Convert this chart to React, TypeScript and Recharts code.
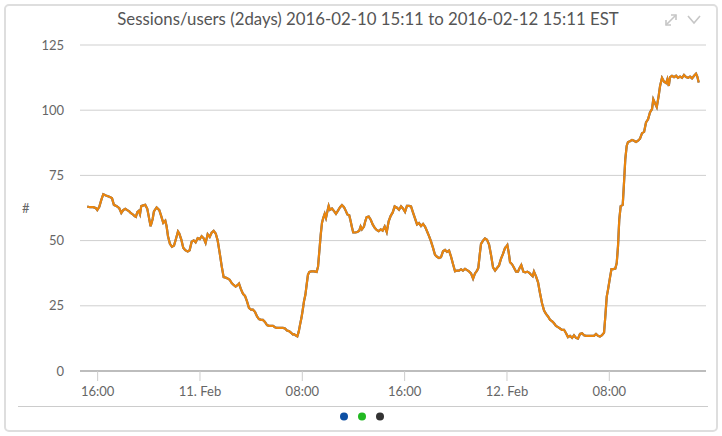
import { LineChart, Line, XAxis, YAxis, CartesianGrid } from 'recharts'

// hours since 2016-02-10 00:00 (EST)
const hours = [
  15.19, 15.4, 15.66, 15.87, 15.97, 16.13, 16.28, 16.44, 16.65, 16.91, 17.12, 17.27, 17.49, 17.69, 17.85, 18.0,
  18.16, 18.31, 18.47, 18.58, 18.74, 18.89, 18.99, 19.1, 19.21, 19.31, 19.41, 19.57, 19.72, 19.88, 19.99, 20.14,
  20.3, 20.4, 20.61, 20.82, 20.97, 21.13, 21.29, 21.39, 21.5, 21.65, 21.81, 21.97, 22.12, 22.28, 22.38, 22.54,
  22.69, 22.85, 23.04, 23.19, 23.35, 23.51, 23.66, 23.82, 23.98, 24.13, 24.29, 24.44, 24.6, 24.76, 24.91, 25.07,
  25.23, 25.38, 25.54, 25.7, 25.85, 26.01, 26.16, 26.32, 26.48, 26.63, 26.79, 26.95, 27.05, 27.2, 27.36, 27.52,
  27.67, 27.83, 27.99, 28.14, 28.3, 28.46, 28.61, 28.77, 28.92, 29.08, 29.24, 29.39, 29.55, 29.71, 29.86, 30.02,
  30.18, 30.33, 30.49, 30.65, 30.8, 30.96, 31.11, 31.27, 31.35, 31.5, 31.61, 31.72, 31.82, 31.93, 32.03, 32.13,
  32.24, 32.34, 32.44, 32.55, 32.7, 32.91, 33.12, 33.23, 33.33, 33.44, 33.54, 33.64, 33.75, 33.85, 33.95, 34.06,
  34.16, 34.32, 34.48, 34.63, 34.79, 34.95, 35.1, 35.26, 35.41, 35.52, 35.67, 35.78, 35.88, 35.98, 36.14, 36.3,
  36.45, 36.56, 36.66, 36.82, 36.92, 37.03, 37.19, 37.35, 37.5, 37.66, 37.81, 37.97, 38.13, 38.28, 38.44, 38.6,
  38.75, 38.91, 39.07, 39.22, 39.4, 39.56, 39.72, 39.87, 40.03, 40.18, 40.34, 40.5, 40.65, 40.81, 40.97, 41.12,
  41.28, 41.44, 41.59, 41.75, 41.9, 42.06, 42.22, 42.37, 42.53, 42.69, 42.84, 43.0, 43.16, 43.31, 43.47, 43.63,
  43.78, 43.94, 44.09, 44.25, 44.41, 44.56, 44.72, 44.88, 45.03, 45.19, 45.35, 45.5, 45.66, 45.76, 45.87, 45.97,
  46.13, 46.28, 46.44, 46.6, 46.75, 46.91, 47.07, 47.22, 47.38, 47.53, 47.69, 47.85, 47.93, 48.03, 48.14, 48.24,
  48.4, 48.55, 48.71, 48.86, 48.97, 49.12, 49.28, 49.43, 49.59, 49.75, 49.9, 50.01, 50.11, 50.27, 50.43, 50.58,
  50.74, 50.9, 51.05, 51.21, 51.37, 51.52, 51.68, 51.83, 51.99, 52.15, 52.3, 52.46, 52.62, 52.77, 52.93, 53.09,
  53.24, 53.4, 53.55, 53.71, 53.87, 54.02, 54.18, 54.34, 54.49, 54.65, 54.8, 54.96, 55.12, 55.27, 55.43, 55.59,
  55.69, 55.8, 55.9, 56.06, 56.17, 56.32, 56.47, 56.58, 56.68, 56.78, 56.89, 57.05, 57.15, 57.25, 57.36, 57.46,
  57.62, 57.78, 57.93, 58.09, 58.25, 58.4, 58.56, 58.72, 58.87, 59.03, 59.18, 59.34, 59.44, 59.6, 59.71, 59.86,
  59.97, 60.12, 60.28, 60.44, 60.54, 60.65, 60.75, 60.9, 61.06, 61.22, 61.37, 61.53, 61.69, 61.84, 62.0, 62.16,
  62.31, 62.47, 62.63, 62.78, 62.88, 62.99,
]

const sessions = [
  63, 62.8, 62.8, 62.4, 61.7, 63, 65.5, 67.8, 67.3, 66.8, 66.3, 63.7, 63.2, 62.4, 60.6, 61.7,
  62.2, 61.7, 61.2, 60.6, 60.1, 59.4, 59.1, 60.9, 61.4, 60.1, 63.2, 63.5, 63.7, 62.2, 59.4, 55.5,
  58.3, 61.2, 62.7, 61.7, 59.4, 56.8, 57.6, 55.5, 51.7, 48.8, 47.6, 48.1, 50.6, 53.5, 52.7, 50.4,
  47.3, 46.3, 45.8, 46.3, 49.6, 50.1, 49.3, 50.9, 50.6, 51.7, 50.9, 49.1, 52.4, 51.4, 53, 53.7,
  52.7, 50.1, 45.3, 40.1, 36, 35.8, 35.5, 35, 33.7, 33, 32.4, 33, 33.5, 31.4, 29.6, 28.8,
  26.8, 24.2, 23.5, 23.5, 22.7, 20.9, 19.9, 19.6, 19.6, 18.8, 17.6, 17.3, 17.3, 17.3, 16.8, 16.5,
  16.5, 16.5, 16.5, 16.3, 15.5, 15.3, 14.7, 14, 14.1, 13.6, 13.3, 15.1, 17.7, 20.3, 23.3, 26.7,
  29.2, 33.1, 36.9, 38, 38.2, 38.2, 38, 40, 45.9, 52.3, 56.9, 58.7, 60.3, 58.7, 61, 63.3,
  61.8, 62.3, 61.3, 60.3, 61.5, 62.8, 63.6, 62.8, 61.3, 60, 59.7, 57.4, 55.1, 53.1, 53.1, 53.3,
  53.8, 55.4, 54.3, 55.4, 57.4, 59, 59.2, 58, 56.2, 54.9, 54.1, 53.6, 54.3, 53.8, 55.4, 53.3,
  57.4, 59.5, 60.8, 63.1, 62.6, 61.8, 63.1, 62.3, 61, 63.3, 63.3, 63.1, 60.8, 58.5, 56.2, 56.7,
  55.6, 56.4, 55.4, 53.6, 51.8, 49.7, 47.2, 44.6, 43.8, 43.3, 43.6, 45.9, 46.4, 45.7, 46.2, 43.8,
  41, 38.2, 38.5, 38.5, 39, 38.5, 39.2, 38.7, 38.2, 37.4, 35.4, 37.4, 38.5, 39.5, 44.6, 48.7,
  50, 50.8, 50.3, 48.5, 44.6, 39.7, 38.5, 39.5, 40.5, 43, 44.9, 47.2, 47.6, 48.3, 45.3, 41.7,
  40.9, 39.6, 38.1, 38.1, 39.3, 40.6, 38.1, 37.8, 38.1, 37.6, 36.8, 36.3, 38.1, 36.3, 34, 29.9,
  26, 23.2, 21.9, 20.9, 19.6, 19.1, 18.3, 17.3, 16.8, 16.3, 15.8, 15.8, 14.5, 13, 13.5, 12.7,
  13.7, 12.7, 12.4, 14.2, 14.5, 13.7, 13.5, 13.5, 13.5, 13.5, 13.5, 14.2, 13.5, 13.2, 13.7, 14.7,
  21, 28.5, 31.2, 36, 39.1, 39.1, 39.3, 41.4, 47.8, 58.1, 63.2, 63.7, 72.2, 81.2, 86.3, 87.8,
  88.1, 88.6, 88.3, 87.8, 88.3, 89.1, 91.2, 91.7, 95.3, 96.5, 99.1, 100.4, 104.2, 102.4, 101.2, 105.5,
  109.3, 112.4, 110.9, 110.4, 111.9, 109.3, 112.7, 113.2, 112.7, 113.2, 112.4, 112.9, 112.4, 113.5, 112.7, 112.4,
  112.9, 112.2, 113.2, 114, 112.9, 110.6,
]

const xTicks = [16, 24, 32, 40, 48, 56]
const xTickLabels = ['16:00', '11. Feb', '08:00', '16:00', '12. Feb', '08:00']
const yTicks = [0, 25, 50, 75, 100, 125]
const legendColors = ['#0d4fa3', '#22b822', '#333333']

const data = hours.map((h, i) => ({ t: h, users: sessions[i], sessions: sessions[i] }))

const font = 'Lato, "Open Sans", sans-serif'

export default function App() {
  return (
    <div style={{ position: 'absolute', left: 0, top: 0, width: 722, height: 436, background: '#fff', fontFamily: font }}>
      <div
        style={{
          position: 'absolute', left: 4, top: 4, width: 714, height: 428,
          border: '2px solid #dedede', borderRadius: 5, boxSizing: 'border-box'
        }}
      />
      <div
        style={{
          position: 'absolute', left: 0, top: 8, width: 736, textAlign: 'center',
          fontSize: 16.8, color: '#555', whiteSpace: 'nowrap'
        }}
      >
        Sessions/users (2days) 2016-02-10 15:11 to 2016-02-12 15:11 EST
      </div>

      <svg style={{ position: 'absolute', left: 660, top: 8 }} width={50} height={22}>
        <g stroke="#c6c6c6" strokeWidth={1.6} fill="none">
          <path d="M6 17 L16 7" />
          <path d="M11 7 L16 7 L16 12" />
          <path d="M6 12 L6 17 L11 17" />
          <path d="M28 8 L34 15 L40 8" />
        </g>
      </svg>

      <div style={{ position: 'absolute', left: 0, top: 0 }}>
        <LineChart width={722} height={436} data={data} margin={{ top: 45, right: 16, bottom: 0, left: 0 }}>
          <CartesianGrid vertical={false} stroke="#cfcfcf" />
          <XAxis
            dataKey="t"
            type="number"
            domain={[14.62, 63.56]}
            ticks={xTicks}
            tickFormatter={(v: number) => xTickLabels[xTicks.indexOf(v)]}
            height={65}
            stroke="#bdbdbd"
            strokeWidth={2}
            tickSize={10}
            tickMargin={6}
            tick={{ fill: '#666', fontSize: 13, fontFamily: font }}
            tickLine={{ stroke: '#cccccc', strokeWidth: 1 }}
            allowDataOverflow
          />
          <YAxis
            domain={[0, 125]}
            ticks={yTicks}
            width={80}
            axisLine={false}
            tickLine={false}
            tickSize={0}
            tickMargin={16}
            tick={{ fill: '#666', fontSize: 13, fontFamily: font }}
            label={{ value: '#', position: 'insideLeft', offset: 22, fill: '#666', fontSize: 13, fontFamily: font }}
          />
          <Line dataKey="sessions" type="linear" stroke="#2a62b0" strokeWidth={2.2} dot={false} isAnimationActive={false} />
          <Line dataKey="users" type="linear" stroke="#ea850d" strokeWidth={2.2} dot={false} isAnimationActive={false} />
        </LineChart>
      </div>

      <div style={{ position: 'absolute', left: 18, top: 406, width: 690, height: 1, background: '#cccccc' }} />
      <svg style={{ position: 'absolute', left: 330, top: 410 }} width={64} height={14}>
        {legendColors.map((c, i) => (
          <circle key={c} cx={14 + i * 18} cy={6.5} r={4} fill={c} />
        ))}
      </svg>
    </div>
  )
}
